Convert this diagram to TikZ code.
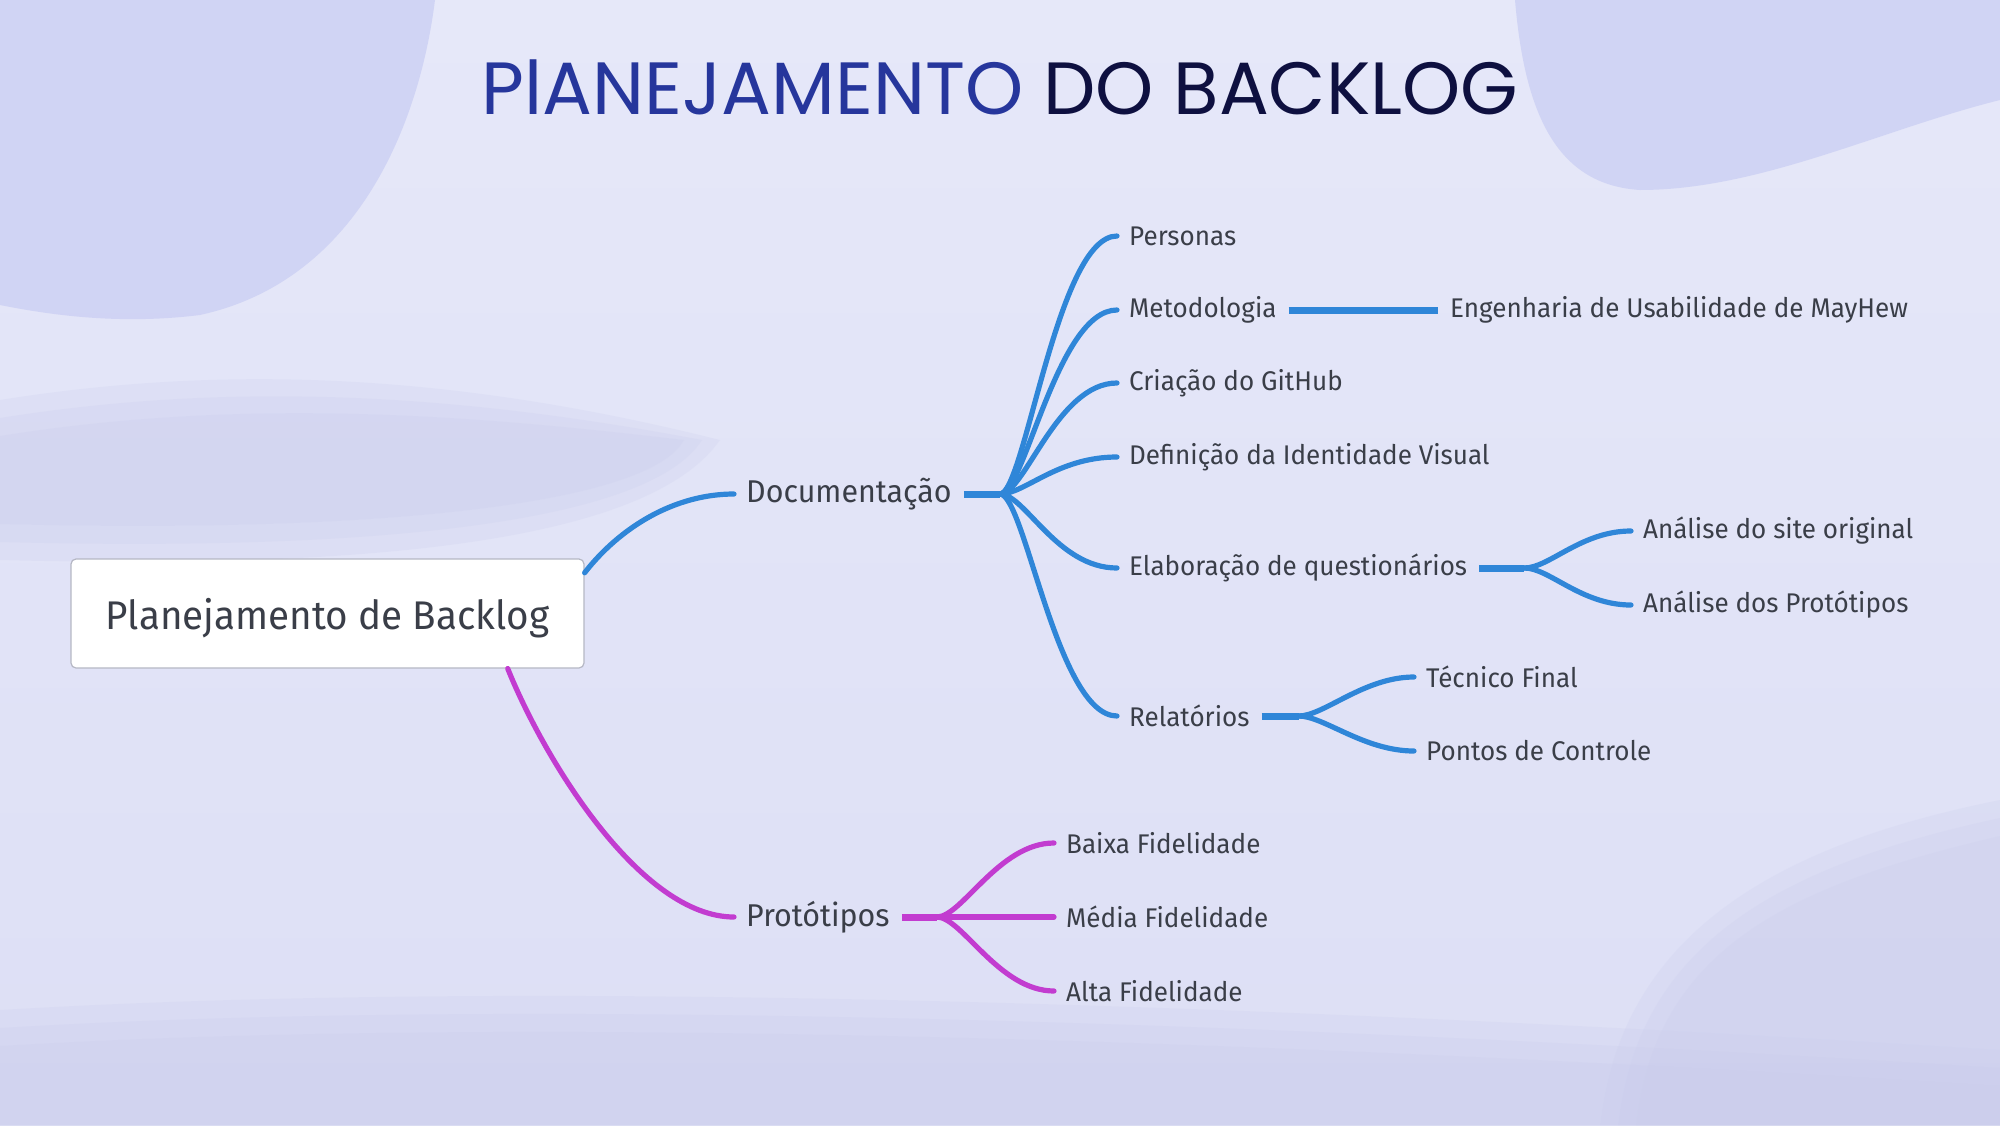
\documentclass[tikz,border=0pt]{standalone}
\usepackage{fontspec}
\setmainfont{Fira Sans}
\newfontfamily\nfont[FakeStretch=0.965]{Fira Sans}
\newfontfamily\tfont{Poppins}
\usetikzlibrary{calc}
\definecolor{bgA}{HTML}{E6E8F9}
\definecolor{bgB}{HTML}{DDDFF5}
\definecolor{blobc}{HTML}{CDD1F4}
\definecolor{washc}{HTML}{C9CCEC}
\definecolor{txt}{HTML}{3A3E48}
\definecolor{blu}{HTML}{2F86D8}
\definecolor{mag}{HTML}{C23CD0}
\definecolor{tblue}{HTML}{26369C}
\definecolor{tnavy}{HTML}{0E1040}
\definecolor{boxline}{HTML}{B5B7C4}
\begin{document}
\begin{tikzpicture}[x=1pt,y=-1pt,
  lbl/.style={font=\nfont\fontsize{27}{30}\selectfont, text=txt, inner xsep=12pt, inner ysep=0pt, anchor=west},
  big/.style={font=\nfont\fontsize{31.5}{34}\selectfont, text=txt, inner xsep=12pt, inner ysep=0pt, anchor=west},
  rootbox/.style={font=\nfont\fontsize{40}{44}\selectfont, text=txt, fill=white, draw=boxline, line width=1.2pt, rounded corners=5pt, minimum width=513pt, minimum height=109pt, inner sep=0pt, text depth=0pt},
  bl/.style={draw=blu, line width=5.2pt, line cap=round},
  blstub/.style={draw=blu, line width=7pt},
  mg/.style={draw=mag, line width=5.2pt, line cap=round},
  mgstub/.style={draw=mag, line width=7pt},
  wash/.style={fill=washc, opacity=0.22}
]
\useasboundingbox (0,0) rectangle (2000,1125);
% background
\shade[top color=bgA, bottom color=bgB] (0,0) rectangle (2000,1125);
\foreach \s in {0,18,36}{
  \fill[wash] (0,{400+\s}) .. controls (250,{360+\s}) and (480,{380+\s}) .. ({720-\s},440) .. controls (650,{540-\s}) and (380,{570-\s}) .. (0,{560-\s}) -- cycle;
  \fill[wash] ({1600+\s},1125) .. controls ({1620+\s},950) and ({1750+\s},{850+\s}) .. (2000,{800+\s}) -- (2000,1125) -- cycle;
  \fill[wash] (0,{1010+\s}) .. controls (500,{980+\s}) and (1200,{1000+\s}) .. (2000,{1050+\s}) -- (2000,1125) -- (0,1125) -- cycle;
}
\fill[blobc, opacity=0.85] (0,0) -- (435,0) .. controls (420,120) and (360,280) .. (200,315) .. controls (120,325) and (50,315) .. (0,305) -- cycle;
\fill[blobc, opacity=0.85] (1515,0) -- (2000,0) -- (2000,100) .. controls (1880,130) and (1760,190) .. (1640,190) .. controls (1560,185) and (1525,120) .. (1515,0) -- cycle;
% title
\node (title) at (1000,87) {\tfont\fontsize{74}{82}\selectfont\textcolor{tblue}{PlANEJAMENTO} \textcolor{tnavy}{DO BACKLOG}};
% nodes
\node[rootbox] (root) at (327.5,613.5) {Planejamento de Backlog};
\node[big] (doc) at (734,494) {Documentação};
\node[big] (proto) at (734,917) {Protótipos};
\node[lbl] (pers) at (1117,236) {Personas};
\node[lbl] (meto) at (1117,310) {Metodologia};
\node[lbl] (eng) at (1438,310) {Engenharia de Usabilidade de MayHew};
\node[lbl] (git) at (1117,383) {Criação do GitHub};
\node[lbl] (vis) at (1117,457) {Definição da Identidade Visual};
\node[lbl] (quest) at (1117,568) {Elaboração de questionários};
\node[lbl] (site) at (1631,531) {Análise do site original};
\node[lbl] (aprot) at (1631,605) {Análise dos Protótipos};
\node[lbl] (rel) at (1117,716) {Relatórios};
\node[lbl] (tec) at (1414,677) {Técnico Final};
\node[lbl] (pc) at (1414,751) {Pontos de Controle};
\node[lbl] (baixa) at (1054,843) {Baixa Fidelidade};
\node[lbl] (media) at (1054,917) {Média Fidelidade};
\node[lbl] (alta) at (1054,991) {Alta Fidelidade};
% branch points
\coordinate (docb) at ($(doc.east)+(36,0)$);
\coordinate (questb) at ($(quest.east)+(45,0)$);
\coordinate (relb) at ($(rel.east)+(37,0)$);
\coordinate (protob) at ($(proto.east)+(35,0)$);
% root connectors
\draw[bl] (root.9) .. controls +(35,-45) and +(-60,0) .. (doc.west);
\draw[mg] (root.-17) .. controls +(37,92) and +(-93,0) .. (proto.west);
% documentacao
\draw[blstub] (doc.east) -- (docb);
\foreach \c in {pers,meto,git,vis,quest,rel}
  \draw[bl] (docb) .. controls +(25,0) and +(-60,0) .. (\c.west);
\draw[blstub] (meto.east) -- (eng.west);
\draw[blstub] (quest.east) -- (questb);
\foreach \c in {site,aprot}
  \draw[bl] (questb) .. controls +(25,0) and +(-50,0) .. (\c.west);
\draw[blstub] (rel.east) -- (relb);
\foreach \c in {tec,pc}
  \draw[bl] (relb) .. controls +(25,0) and +(-50,0) .. (\c.west);
% prototipos
\draw[mgstub] (proto.east) -- (protob);
\foreach \c in {baixa,alta}
  \draw[mg] (protob) .. controls +(25,0) and +(-55,0) .. (\c.west);
\draw[mg] (protob) -- (media.west);
\end{tikzpicture}
\end{document}
